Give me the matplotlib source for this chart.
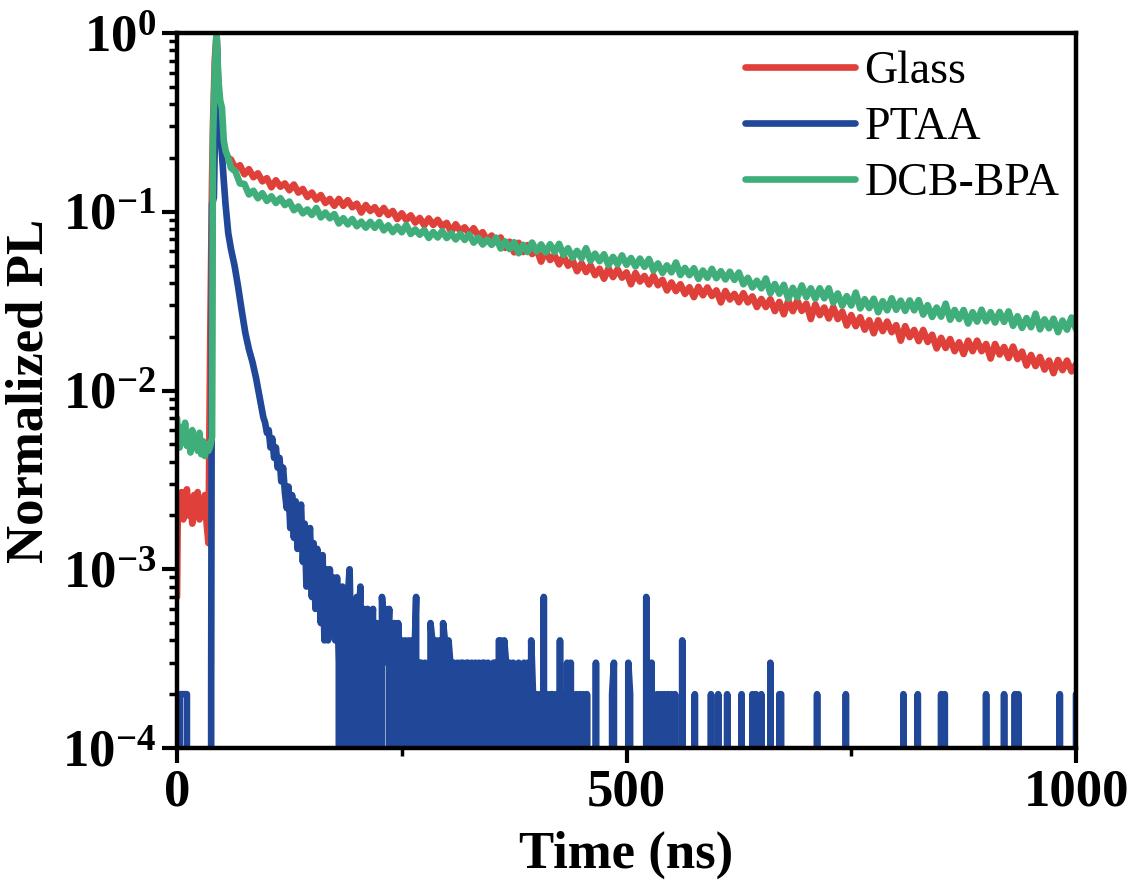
import numpy as np
import matplotlib
matplotlib.use("Agg")
import matplotlib.pyplot as plt
from matplotlib.lines import Line2D
from matplotlib.ticker import LogLocator, MultipleLocator, NullFormatter

plt.rcParams['font.family'] = ['Liberation Serif', 'DejaVu Serif']
plt.rcParams['font.weight'] = 'bold'
plt.rcParams['mathtext.fontset'] = 'custom'
plt.rcParams['mathtext.rm'] = 'Liberation Serif:bold'
plt.rcParams['mathtext.it'] = 'Liberation Serif:bold'
plt.rcParams['mathtext.bf'] = 'Liberation Serif:bold'
plt.rcParams['mathtext.default'] = 'rm'

# --- data (normalized PL vs time in ns) ---
# rise / pre-pulse part for Glass and DCB-BPA
early_t = [0, 1, 3, 5, 7, 9, 11, 13, 15, 17, 19, 21, 23, 25, 27, 29, 31, 33, 35,
           37, 39, 40, 42, 44, 46, 48, 50, 52, 54, 57]
glass_early = [0.0007, 0.0025, 0.0021, 0.0027, 0.0019, 0.0024, 0.0028, 0.0020, 0.0025,
               0.0018, 0.0026, 0.0022, 0.0027, 0.0019, 0.0024, 0.0021, 0.0026, 0.0018,
               0.0014, 0.02, 0.15, 0.3, 0.7, 1.0, 0.5, 0.35, 0.26, 0.22, 0.21, 0.20]
dcb_early = [0.0070, 0.0058, 0.0048, 0.0062, 0.0051, 0.0066, 0.0049, 0.0057, 0.0045,
             0.0060, 0.0050, 0.0055, 0.0046, 0.0058, 0.0044, 0.0052, 0.0043, 0.0050,
             0.0046, 0.0049, 0.0055, 0.25, 0.6, 1.0, 0.55, 0.42, 0.38, 0.25, 0.22, 0.20]

# 5 ns sampling from 60 ns to 1000 ns
glass_late = [
    0.196, 0.175, 0.182, 0.162, 0.173, 0.156, 0.164, 0.148, 0.154, 0.137,
    0.150, 0.138, 0.144, 0.132, 0.142, 0.128, 0.134, 0.121, 0.128, 0.117,
    0.124, 0.112, 0.118, 0.108, 0.118, 0.108, 0.116, 0.106, 0.111, 0.099,
    0.109, 0.101, 0.106, 0.097, 0.105, 0.096, 0.101, 0.091, 0.098, 0.090,
    0.0955, 0.0870, 0.0923, 0.0840, 0.0918, 0.0844, 0.0901, 0.0828, 0.0866, 0.0771,
    0.0851, 0.0782, 0.0818, 0.0752, 0.0809, 0.0735, 0.0768, 0.0691, 0.0736, 0.0675,
    0.0718, 0.0628, 0.0680, 0.0593, 0.0670, 0.0595, 0.0651, 0.0580, 0.0618, 0.0526,
    0.0602, 0.0537, 0.0571, 0.0508, 0.0564, 0.0499, 0.0535, 0.0465, 0.0515, 0.0460,
    0.0501, 0.0442, 0.0480, 0.0422, 0.0482, 0.0431, 0.0476, 0.0428, 0.0458, 0.0393,
    0.0454, 0.0407, 0.0437, 0.0392, 0.0438, 0.0388, 0.0416, 0.0363, 0.0402, 0.0360,
    0.0393, 0.0347, 0.0378, 0.0333, 0.0380, 0.0341, 0.0377, 0.0338, 0.0363, 0.0311,
    0.0360, 0.0323, 0.0347, 0.0312, 0.0350, 0.0311, 0.0336, 0.0293, 0.0325, 0.0293,
    0.0324, 0.0278, 0.0313, 0.0267, 0.0318, 0.0278, 0.0318, 0.0279, 0.0306, 0.0251,
    0.0303, 0.0264, 0.0291, 0.0253, 0.0293, 0.0251, 0.0276, 0.0231, 0.0264, 0.0229,
    0.0257, 0.0219, 0.0247, 0.0209, 0.0247, 0.0215, 0.0243, 0.0212, 0.0232, 0.0190,
    0.0229, 0.0199, 0.0218, 0.0189, 0.0218, 0.0187, 0.0205, 0.0172, 0.0197, 0.0173,
    0.0194, 0.0166, 0.0186, 0.0160, 0.0190, 0.0166, 0.0190, 0.0166, 0.0182, 0.0151,
    0.0182, 0.0159, 0.0175, 0.0152, 0.0176, 0.0150, 0.0165, 0.0138, 0.0158, 0.0137,
    0.0154, 0.0131, 0.0147, 0.0125, 0.0148, 0.0130, 0.0147, 0.0128, 0.0140]
dcb_late = [
    0.176, 0.168, 0.144, 0.143, 0.125, 0.131, 0.119, 0.127, 0.115, 0.122,
    0.112, 0.119, 0.109, 0.114, 0.102, 0.107, 0.098, 0.103, 0.096, 0.105,
    0.093, 0.099, 0.092, 0.097, 0.086, 0.092, 0.085, 0.091, 0.083, 0.088,
    0.0815, 0.0878, 0.0813, 0.0876, 0.0787, 0.0839, 0.0770, 0.0826, 0.0768, 0.0843,
    0.0751, 0.0796, 0.0744, 0.0791, 0.0714, 0.0770, 0.0718, 0.0779, 0.0713, 0.0757,
    0.0700, 0.0751, 0.0696, 0.0747, 0.0672, 0.0716, 0.0656, 0.0699, 0.0653, 0.0716,
    0.0623, 0.0682, 0.0618, 0.0675, 0.0586, 0.0653, 0.0595, 0.0672, 0.0599, 0.0657,
    0.0592, 0.0658, 0.0595, 0.0661, 0.0573, 0.0625, 0.0552, 0.0604, 0.0549, 0.0625,
    0.0532, 0.0583, 0.0529, 0.0578, 0.0503, 0.0559, 0.0508, 0.0570, 0.0505, 0.0551,
    0.0494, 0.0547, 0.0492, 0.0544, 0.0469, 0.0514, 0.0455, 0.0501, 0.0458, 0.0520,
    0.0443, 0.0485, 0.0442, 0.0483, 0.0421, 0.0469, 0.0427, 0.0479, 0.0425, 0.0465,
    0.0418, 0.0462, 0.0416, 0.0457, 0.0393, 0.0427, 0.0377, 0.0411, 0.0373, 0.0423,
    0.0350, 0.0394, 0.0348, 0.0390, 0.0326, 0.0375, 0.0332, 0.0387, 0.0333, 0.0373,
    0.0326, 0.0373, 0.0328, 0.0373, 0.0310, 0.0349, 0.0298, 0.0337, 0.0299, 0.0353,
    0.0288, 0.0324, 0.0289, 0.0326, 0.0274, 0.0316, 0.0281, 0.0328, 0.0283, 0.0318,
    0.0279, 0.0319, 0.0281, 0.0320, 0.0266, 0.0300, 0.0258, 0.0291, 0.0259, 0.0306,
    0.0249, 0.0282, 0.0251, 0.0282, 0.0237, 0.0274, 0.0243, 0.0283, 0.0244, 0.0274,
    0.0240, 0.0275, 0.0242, 0.0277, 0.0230, 0.0260, 0.0224, 0.0254, 0.0226, 0.0269,
    0.0220, 0.0250, 0.0223, 0.0252, 0.0212, 0.0246, 0.0219, 0.0256, 0.0221]

# PTAA: fast decay, then photon-count limited tail (1 count = 1e-4)
ptaa_early_t = [0, 2, 3, 7, 11, 12, 37, 38, 39, 41, 43, 44, 46, 48, 50, 52, 54, 57,
                60, 64, 68, 72, 76, 80, 84, 88, 92, 96]
ptaa_early = [0, 0, 2e-4, 2e-4, 2e-4, 0, 0, 2e-4, 0.11, 0.12, 0.45, 1.0, 0.45, 0.28,
              0.21, 0.15, 0.11, 0.076, 0.062, 0.05, 0.038, 0.028, 0.021, 0.017,
              0.0144, 0.0117, 0.0091, 0.0071]
# counts every 2 ns from 98 ns to 440 ns
ptaa_counts = [
    66, 58, 60, 48, 54, 42, 48, 37, 42, 31, 37, 27, 22, 29, 17, 26, 15, 24, 13, 20,
    23, 11, 18, 8, 15, 17, 7, 14, 6, 13, 10, 5, 12, 4, 10, 4, 10, 5, 9, 4,
    9, 3, 0, 8, 5, 0, 7, 10, 3, 6, 0, 7, 4, 8, 0, 6, 4, 6, 0, 5,
    6, 0, 5, 2, 0, 7, 5, 6, 3, 6, 0, 4, 5, 0, 5, 3, 4, 0, 4, 3,
    4, 0, 4, 3, 7, 0, 3, 3, 0, 3, 2, 0, 5, 4, 0, 4, 2, 4, 0, 5,
    4, 0, 4, 3, 0, 3, 0, 3, 0, 3, 3, 0, 3, 3, 0, 3, 2, 3, 0, 3,
    0, 3, 3, 0, 3, 2, 0, 3, 3, 0, 4, 4, 0, 4, 3, 0, 3, 0, 3, 2,
    0, 3, 0, 0, 3, 0, 3, 0, 4, 2, 0, 2, 0, 2, 0, 7, 0, 2, 0, 2,
    2, 0, 2, 0, 4, 0, 2, 0, 3, 0, 3, 0]
# isolated counts after 440 ns (zero elsewhere)
ptaa_spike_t = [444, 448, 452, 456, 466, 484, 486, 502, 504, 522, 528, 534, 538, 542,
                546, 550, 554, 562, 576, 594, 602, 612, 628, 640, 644, 650, 660, 670,
                672, 712, 744, 808, 824, 850, 854, 900, 920, 932, 936, 982, 1000]
ptaa_spike_counts = [2, 2, 2, 2, 3, 2, 3, 3, 2, 7, 3, 2, 2, 2, 2, 2, 2, 4, 2, 2, 2,
                     2, 2, 2, 2, 2, 3, 2, 2, 2, 2, 2, 2, 2, 2, 2, 2, 2, 2, 2, 2]

labels = ['Glass', 'PTAA', 'DCB-BPA']
colors = ['#E0403A', '#214898', '#40AE7A']

# --- assemble series ---
glass_t = np.concatenate([early_t, 60 + 5 * np.arange(len(glass_late))])
glass = np.concatenate([glass_early, glass_late])
dcb_t = np.concatenate([early_t, 60 + 5 * np.arange(len(dcb_late))])
dcb = np.concatenate([dcb_early, dcb_late])

dense_t = 98 + 2 * np.arange(len(ptaa_counts))
tail_t = np.arange(442, 1001, 2)
tail = np.zeros(len(tail_t))
for t, c in zip(ptaa_spike_t, ptaa_spike_counts):
    tail[(t - 442) // 2] = c
ptaa_t = np.concatenate([ptaa_early_t, dense_t, tail_t])
ptaa = np.concatenate([ptaa_early, np.array(ptaa_counts) * 1e-4, tail * 1e-4])

# --- figure ---
fig = plt.figure(figsize=(11.36, 8.96), dpi=100)
ax = fig.add_axes([177 / 1136, 1 - 748 / 896, 899 / 1136, 715 / 896])

lw = 4.8
kw = dict(lw=lw, solid_joinstyle='round', solid_capstyle='round')
ax.plot(glass_t, glass, color=colors[0], **kw)
ax.plot(ptaa_t, ptaa, color=colors[1], **kw)
ax.plot(dcb_t, dcb, color=colors[2], **kw)

ax.set_yscale('log')
ax.set_xlim(0, 1000)
ax.set_ylim(1e-4, 1)

ax.xaxis.set_major_locator(MultipleLocator(500))
ax.xaxis.set_minor_locator(MultipleLocator(250))
ax.yaxis.set_major_locator(LogLocator(base=10, numticks=10))
ax.yaxis.set_minor_locator(LogLocator(base=10, subs=np.arange(2, 10), numticks=20))
ax.yaxis.set_minor_formatter(NullFormatter())

for s in ax.spines.values():
    s.set_linewidth(3.2)
ax.tick_params(which='major', direction='out', length=11, width=3, labelsize=38, pad=4)
ax.tick_params(which='minor', direction='out', length=6, width=2.5)
ax.tick_params(top=False, right=False, which='both')

ax.set_xlabel('Time (ns)', fontsize=38, fontweight='bold', labelpad=10)
ax.set_ylabel('Normalized PL', fontsize=38, fontweight='bold', labelpad=6)

handles = [Line2D([], [], color=c, lw=lw, solid_capstyle='round') for c in colors]
ax.legend(handles, labels, loc='upper right', bbox_to_anchor=(1.012, 1.014), frameon=False,
          prop=dict(family='Liberation Serif', weight='normal', size=33),
          handlelength=2.4, handletextpad=0.2, labelspacing=0.3, borderaxespad=0.2)

fig.savefig('out.png', dpi=100)
